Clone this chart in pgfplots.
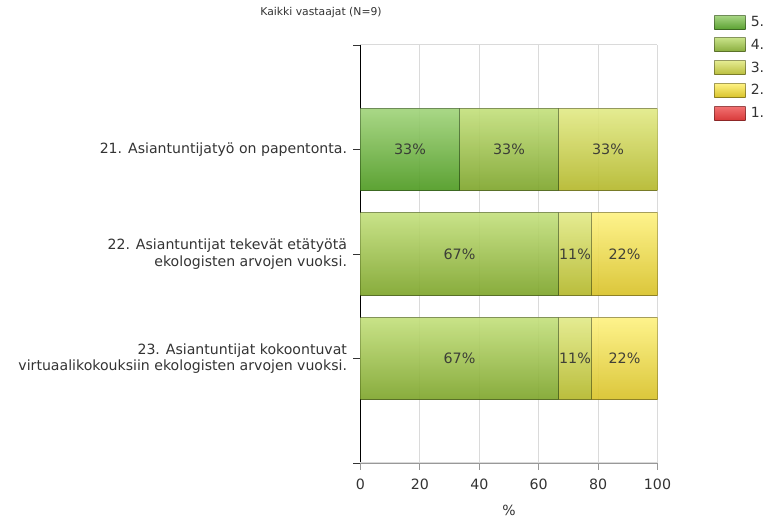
\documentclass[border=0pt]{standalone}
\usepackage{fontspec}
\setmainfont{DejaVu Sans}
\usepackage{pgfplots}
\usepackage{pgfplotstable}
\pgfplotsset{compat=1.18}

\definecolor{txt}{HTML}{333333}
\definecolor{gridc}{HTML}{DADADA}
\definecolor{c5top}{HTML}{A2D47C}
\definecolor{c5bot}{HTML}{4E9A22}
\definecolor{c4top}{HTML}{C4E07E}
\definecolor{c4bot}{HTML}{7EA52C}
\definecolor{c3top}{HTML}{E2EA88}
\definecolor{c3bot}{HTML}{B4B82C}
\definecolor{c2top}{HTML}{FEF282}
\definecolor{c2bot}{HTML}{D8C22A}
\definecolor{c1top}{HTML}{F27272}
\definecolor{c1bot}{HTML}{D83A3A}

% share of answers (%) per statement, one table per statement (y = row position)
\pgfplotstableread{
y  v5     v4     v3
3  33.33  33.33  33.33
}\qA
\pgfplotstableread{
y  v4     v3     v2
2  66.67  11.11  22.22
}\qB
\pgfplotstableread{
y  v4     v3     v2
1  66.67  11.11  22.22
}\qC

\pgfplotsset{
  seg/.style n args={2}{
    draw=black, draw opacity=0.35, line width=0.7pt,
    top color=#1, bottom color=#2, fill opacity=0.92,
  },
  frame/.style={
    at={(360.5pt,59pt)}, anchor=south west,
    scale only axis, width=297pt, height=418pt,
    xbar stacked, bar width=0.79,
    xmin=0, xmax=100, ymin=0, ymax=4,
    /pgf/number format/assume math mode=true,
    visualization depends on={rawx \as \segw},
    nodes near coords={\pgfmathprintnumber[fixed,precision=0]{\segw}\%},
    every node near coord/.append style={anchor=center, text=txt,
      font=\fontsize{14.3}{16}\selectfont},
  },
}

\begin{document}
\begin{tikzpicture}
\path[use as bounding box] (0,0) rectangle (769pt,522pt);
\node[font=\fontsize{10.8}{12}\selectfont, text=txt] at (321pt,509pt) {Kaikki vastaajat (N=9)};
\begin{axis}[
  frame,
  axis lines*=left, axis line style={-},
  x axis line style={draw=gray!80},
  y axis line style={draw=black, line width=1.2pt},
  xtick={0,20,40,60,80,100},
  ytick={1,2,3},
  yticklabels={
    {23. Asiantuntijat kokoontuvat\\virtuaalikokouksiin ekologisten arvojen vuoksi.},
    {22. Asiantuntijat tekevät etätyötä\\ekologisten arvojen vuoksi.},
    {21. Asiantuntijatyö on papentonta.}},
  extra y ticks={0,4}, extra y tick labels={},
  extra y tick style={grid=major, major grid style={draw=gridc, line width=1pt},
    major tick style={draw=gray!80}},
  tick align=outside, major tick length=7pt,
  xtick style={draw=gray!80, line width=0.8pt},
  ytick style={draw=black!80, line width=0.8pt},
  xmajorgrids, major grid style={draw=gridc, line width=1pt},
  yticklabel style={align=right, text=txt, xshift=-3pt,
    font=\fontsize{14.1}{16.7}\selectfont},
  xticklabel style={text=txt, yshift=-5pt, font=\fontsize{14.2}{16}\selectfont},
  xlabel={\%}, xlabel style={text=txt, font=\fontsize{14}{16}\selectfont, yshift=-9pt},
  legend style={at={(rel axis cs:1.19,1.074)}, anchor=north west, draw=none, fill=none,
    inner sep=0pt, row sep=7pt, font=\fontsize{14}{16}\selectfont, text=txt,
    /tikz/every odd column/.append style={column sep=3pt}},
  legend cell align=left,
  legend image code/.code={\draw[#1] (0pt,-7pt) rectangle (31pt,7pt);},
]
\addplot[seg={c5top}{c5bot}] table[x=v5, y=y] {\qA};
\addplot[seg={c4top}{c4bot}] table[x=v4, y=y] {\qA};
\addplot[seg={c3top}{c3bot}] table[x=v3, y=y] {\qA};
\addlegendimage{draw=black, draw opacity=0.35, line width=0.7pt, top color=c2top, bottom color=c2bot}
\addlegendimage{draw=black, draw opacity=0.35, line width=0.7pt, top color=c1top, bottom color=c1bot}
\legend{5.,4.,3.,2.,1.}
\end{axis}
\begin{axis}[frame, hide axis]
\addplot[seg={c4top}{c4bot}] table[x=v4, y=y] {\qB};
\addplot[seg={c3top}{c3bot}] table[x=v3, y=y] {\qB};
\addplot[seg={c2top}{c2bot}] table[x=v2, y=y] {\qB};
\end{axis}
\begin{axis}[frame, hide axis]
\addplot[seg={c4top}{c4bot}] table[x=v4, y=y] {\qC};
\addplot[seg={c3top}{c3bot}] table[x=v3, y=y] {\qC};
\addplot[seg={c2top}{c2bot}] table[x=v2, y=y] {\qC};
\end{axis}
\end{tikzpicture}
\end{document}
